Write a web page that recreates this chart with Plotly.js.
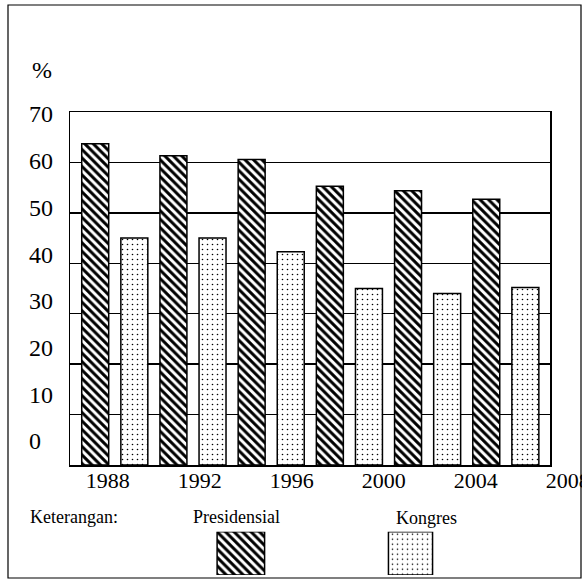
<!DOCTYPE html>
<html>
<head>
<meta charset="utf-8">
<script src="https://cdn.plot.ly/plotly-3.0.1.min.js"></script>
<style>html,body{margin:0;padding:0;background:#fff;}#chart{width:582px;height:579px;}</style>
</head>
<body>
<div id="chart"></div>
<script>
// ---- data ----
const presYears = [1988, 1992, 1996, 2000, 2004, 2008];
const presValues = [63.7, 61.3, 60.6, 55.3, 54.4, 52.7];
const kongYears = [1990, 1994, 1998, 2002, 2006, 2010];
const kongValues = [45.0, 45.0, 42.3, 35.0, 34.0, 35.2];
const xTickYears = [1988, 1992, 1996, 2000, 2004, 2008];
const yTickValues = [0, 10, 20, 30, 40, 50, 60, 70];
const yTickText = ['0', '10', '20', '30', '40', '50', '60', '70'];
const seriesNames = ['Presidensial', 'Kongres'];
const legendSwatchX = [0, 1];
const legendSwatchY = [1, 1];
const unitLabel = '%';
const legendTitle = 'Keterangan:';

// ---- styles ----
const W = 582, H = 579;
const FONT = 'Liberation Serif, Times New Roman, serif';
const px = v => v / W;
const py = v => 1 - v / H;
const hatch = {shape: '\\', fgcolor: '#000', bgcolor: '#fff', size: 6, solidity: 0.5};
const dots = {shape: '.', fgcolor: '#000', bgcolor: '#fff', size: 5, solidity: 0.08};
const outline = {color: '#000', width: 1.5};
const plotDomainY = [py(465), py(112)];

const traces = [
  {type: 'bar', name: seriesNames[0], x: presYears, y: presValues, width: 1.38,
   marker: {color: '#fff', pattern: hatch, line: outline}, xaxis: 'x', yaxis: 'y', showlegend: false},
  {type: 'bar', name: seriesNames[1], x: kongYears, y: kongValues, width: 1.38,
   marker: {color: '#fff', pattern: dots, line: outline}, xaxis: 'x', yaxis: 'y', showlegend: false},
  // carriers for the label axes (invisible)
  {type: 'scatter', mode: 'markers', x: xTickYears, marker: {opacity: 0}, xaxis: 'x2', yaxis: 'y4', showlegend: false, hoverinfo: 'skip'},
  {type: 'scatter', mode: 'markers', y: yTickValues, marker: {opacity: 0}, xaxis: 'x', yaxis: 'y2', showlegend: false, hoverinfo: 'skip'},
  // legend swatches
  {type: 'bar', x: [legendSwatchX[0]], y: [legendSwatchY[0]], width: 0.28,
   marker: {color: '#fff', pattern: hatch, line: outline}, xaxis: 'x3', yaxis: 'y3', showlegend: false},
  {type: 'bar', x: [legendSwatchX[1]], y: [legendSwatchY[1]], width: 0.26,
   marker: {color: '#fff', pattern: dots, line: outline}, xaxis: 'x3', yaxis: 'y3', showlegend: false}
];

const layout = {
  width: W, height: H,
  margin: {l: 0, r: 0, t: 0, b: 0, pad: 0},
  paper_bgcolor: '#fff', plot_bgcolor: 'rgba(0,0,0,0)',
  font: {family: FONT, color: '#000'},
  barmode: 'overlay',
  showlegend: false,
  hovermode: false,
  xaxis: {domain: [px(70), px(550)], range: [1986.71, 2011.26], showticklabels: false, ticks: '',
          showgrid: false, zeroline: false, showline: true, mirror: true, linecolor: '#000', linewidth: 1.5},
  yaxis: {domain: plotDomainY, range: [0, 70], dtick: 10, showticklabels: false, ticks: '',
          showgrid: true, gridcolor: '#000', gridwidth: 1.3, zeroline: false,
          showline: true, mirror: true, linecolor: '#000', linewidth: 1.5},
  xaxis2: {domain: [px(70), 1], range: [1986.36, 2008.62], anchor: 'y4', side: 'bottom',
           tickmode: 'array', tickvals: xTickYears, ticktext: xTickYears.map(String),
           ticks: '', showgrid: false, zeroline: false, showline: false, ticklabeloverflow: 'allow',
           tickfont: {family: FONT, size: 22, color: '#000'}, ticklabelstandoff: 0},
  yaxis4: {domain: plotDomainY, range: [0, 10], anchor: 'x2', showgrid: false, zeroline: false,
           showline: false, showticklabels: false, ticks: ''},
  yaxis2: {overlaying: 'y', anchor: 'free', position: px(25), side: 'left', range: [-5.138, 70.428],
           tickmode: 'array', tickvals: yTickValues, ticktext: yTickText,
           ticklabelposition: 'inside', ticklabeloverflow: 'allow',
           ticks: '', showgrid: false, zeroline: false, showline: false,
           tickfont: {family: FONT, size: 24, color: '#000'}},
  xaxis3: {domain: [px(200), px(450)], range: [-0.2408, 1.2328], anchor: 'y3', visible: false},
  yaxis3: {domain: [py(575), py(531.7)], range: [0, 1], anchor: 'x3', visible: false},
  annotations: [
    {text: unitLabel, xref: 'paper', yref: 'paper', x: px(41.5), y: py(70), showarrow: false,
     xanchor: 'center', yanchor: 'middle', font: {family: FONT, size: 24, color: '#000'}},
    {text: legendTitle, xref: 'paper', yref: 'paper', x: px(74), y: py(517), showarrow: false,
     xanchor: 'center', yanchor: 'middle', font: {family: FONT, size: 18, color: '#000'}},
    {text: seriesNames[0], xref: 'paper', yref: 'paper', x: px(236.7), y: py(517), showarrow: false,
     xanchor: 'center', yanchor: 'middle', font: {family: FONT, size: 18, color: '#000'}},
    {text: seriesNames[1], xref: 'paper', yref: 'paper', x: px(426), y: py(518), showarrow: false,
     xanchor: 'center', yanchor: 'middle', font: {family: FONT, size: 18, color: '#000'}}
  ],
  shapes: [
    {type: 'rect', xref: 'paper', yref: 'paper', x0: px(8), x1: px(581), y0: py(578), y1: py(5),
     line: {color: '#000', width: 1.2}, fillcolor: 'rgba(0,0,0,0)', layer: 'below'}
  ]
};

Plotly.newPlot('chart', traces, layout, {staticPlot: true, displayModeBar: false});
</script>
</body>
</html>
